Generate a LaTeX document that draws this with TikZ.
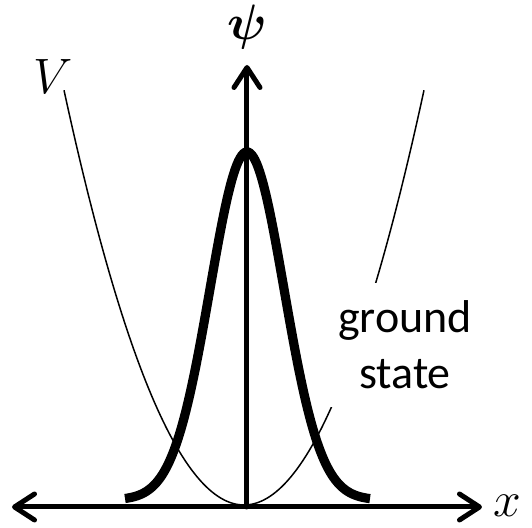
\documentclass[tikz,border=0pt]{standalone}
\usepackage{fontspec}
\usepackage{amsmath,bm}
\newfontfamily\labelfont{Carlito}
\usetikzlibrary{arrows.meta}
\tikzset{axisbarb/.tip={Straight Barb[length=10pt,width=13pt,line width=2.5pt,round]}}

\begin{document}
\begin{tikzpicture}[
  x=0.5pt, y=-0.5pt,
  axis/.style={line width=2.5pt,line cap=round,-axisbarb},
  potential/.style={line width=0.75pt},
  wave/.style={line width=4.6pt},
  axislabel/.style={inner sep=0pt,font=\fontsize{23pt}{28pt}\selectfont}
]
  \useasboundingbox (0,0) rectangle (532,528);
  % axis end points
  \coordinate (O) at (247,507);
  \coordinate (xleft) at (12,507);
  \coordinate (xright) at (482,507);
  \coordinate (ytop) at (247,65);
  % potential well
  \draw[potential] plot[domain=64:424,samples=120] (\x,{505-(0.11314*(\x-244))^2});
  \node[fill=white,inner xsep=4pt,inner ysep=9pt,align=center,
    font=\labelfont\fontsize{23pt}{28pt}\selectfont] (gs) at (405,345) {ground\\state};
  % ground state wave function
  \draw[wave] plot[domain=125:370,samples=150] (\x,{500-348*exp(-((\x-247)/52.33)^2)});
  % axes
  \draw[axis,axisbarb-axisbarb] (xleft) -- (xright);
  \draw[axis] (O) -- (ytop);
  \node[axislabel] (psi) at (247,27) {$\bm{\psi}$};
  \node[axislabel] (V) at (53,77) {$V$};
  \node[axislabel] (xlab) at (507,506) {$x$};
\end{tikzpicture}
\end{document}
